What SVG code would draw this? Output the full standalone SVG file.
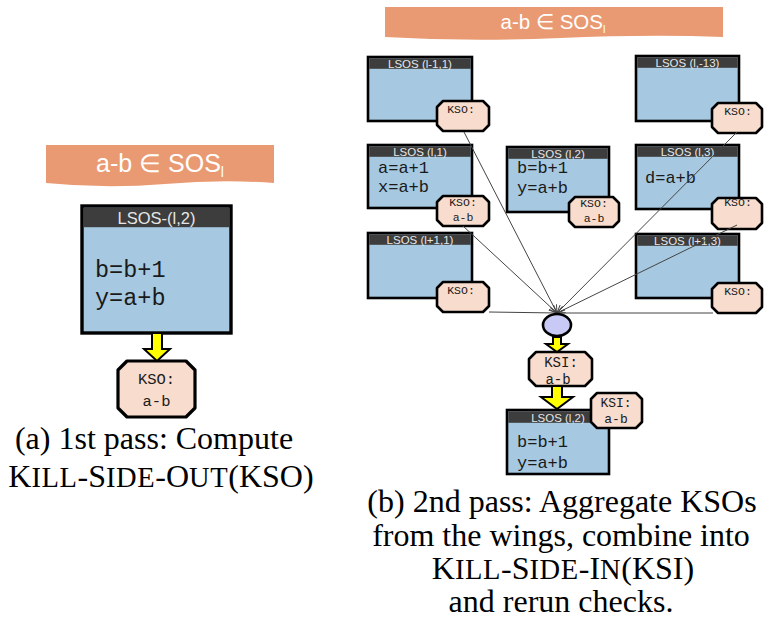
<svg xmlns="http://www.w3.org/2000/svg" width="767" height="630" viewBox="0 0 767 630">
<style>
.body{fill:#a6c9e1;stroke:#000;stroke-width:2.6}
.hdr{fill:#3d3d3d}
.htx{font-family:"Liberation Sans",Arial,sans-serif;font-size:11.5px;fill:#e6e6e6;text-anchor:middle}
.code{font-family:"Liberation Mono","Courier New",monospace;font-size:17px;fill:#1a1a1a}
.oct{fill:#f8dccd;stroke:#000;stroke-width:2.6;stroke-linejoin:round}
.ksx{font-family:"Liberation Mono","Courier New",monospace;font-size:11.5px;fill:#1a1a1a;text-anchor:middle}
.ban{fill:#e99a72}
.btx{font-family:"Liberation Sans",Arial,sans-serif;fill:#ffffff;text-anchor:middle}
.yel{fill:#ffff00;stroke:#000;stroke-width:2;stroke-linejoin:miter}
.con{stroke:#444;stroke-width:1;fill:none;marker-end:url(#ah)}
.cap{font-family:"Liberation Serif","Times New Roman",serif;font-size:32px;fill:#000;text-anchor:middle}
.sc{font-size:28.5px;letter-spacing:0.6px}
</style>
<defs>
<marker id="ah" markerUnits="userSpaceOnUse" markerWidth="9" markerHeight="8" refX="8" refY="4" orient="auto">
<path d="M0,0.5 L8,4 L0,7.5" fill="none" stroke="#444" stroke-width="1"/>
</marker>
</defs>

<!-- Left panel -->
<g id="banner-left">
<path class="ban" d="M46,145 H274 V183 Q222,179 165,184 Q105,189 46,183 Z"/>
<text class="btx" x="160" y="172" style="font-size:25px">a-b ∈ SOS<tspan style="font-size:14px" dy="5">l</tspan></text>
</g>
<g id="lsos-left">
<rect class="body" x="82" y="206" width="149" height="127" style="stroke-width:3.4"/>
<rect class="hdr" x="83.7" y="207.7" width="145.6" height="19.5"/>
<text x="156.5" y="224" font-family="Liberation Sans, Arial, sans-serif" font-size="16.5" fill="#e6e6e6" text-anchor="middle">LSOS-(l,2)</text>
<text class="code" x="95" y="277" style="font-size:23.5px">b=b+1</text>
<text class="code" x="95" y="305" style="font-size:23.5px">y=a+b</text>
</g>
<g id="kso-left">
<path class="oct" style="stroke-width:3.2" d="M127,361 H186 L195,370 V408 L186,417 H127 L118,408 V370 Z"/>
<text class="ksx" x="156.5" y="384" style="font-size:15.5px">KSO:</text>
<text class="ksx" x="156.5" y="406" style="font-size:15.5px">a-b</text>
</g>
<g id="arrow-left">
<path class="yel" d="M152,333 H162 V349 H170 L157,361 L144,349 H152 Z"/>
</g>
<g id="caption-a">
<text class="cap" x="154" y="449">(a) 1st pass: Compute</text>
<text class="cap" x="161" y="487">K<tspan class="sc">ILL</tspan>-S<tspan class="sc">IDE</tspan>-O<tspan class="sc">UT</tspan>(KSO)</text>
</g>

<!-- Right panel -->
<g id="banner-right">
<path class="ban" d="M385,7 H723 V37 Q650,34 560,38 Q470,42 385,37 Z"/>
<text class="btx" x="553" y="29" style="font-size:20.5px">a-b ∈ SOS<tspan style="font-size:11px" dy="4">l</tspan></text>
</g>

<g id="lsos-l-1-1">
<rect class="body" x="368" y="57" width="104" height="64"/>
<rect class="hdr" x="369.3" y="58.3" width="101.4" height="10.5"/>
<text class="htx" x="420" y="67.5">LSOS (l-1,1)</text>
<path class="oct" d="M443,101 H483 L489,107 V125 L483,131 H443 L437,125 V107 Z"/>
<text class="ksx" x="461" y="113">KSO:</text>
</g>

<g id="lsos-l-1">
<rect class="body" x="368" y="145" width="104" height="63"/>
<rect class="hdr" x="369.3" y="146.3" width="101.4" height="10.5"/>
<text class="htx" x="420" y="155.5">LSOS (l,1)</text>
<text class="code" x="378" y="173">a=a+1</text>
<text class="code" x="378" y="192">x=a+b</text>
<path class="oct" d="M443,196 H483 L489,202 V220 L483,226 H443 L437,220 V202 Z"/>
<text class="ksx" x="463" y="206">KSO:</text>
<text class="ksx" x="463" y="221">a-b</text>
</g>

<g id="lsos-l+1-1">
<rect class="body" x="368" y="233" width="104" height="65"/>
<rect class="hdr" x="369.3" y="234.3" width="101.4" height="10.5"/>
<text class="htx" x="420" y="243.5">LSOS (l+1,1)</text>
<path class="oct" d="M443,282 H483 L489,288 V306 L483,312 H443 L437,306 V288 Z"/>
<text class="ksx" x="461" y="294">KSO:</text>
</g>

<g id="lsos-l-2">
<rect class="body" x="507" y="147" width="102" height="65"/>
<rect class="hdr" x="508.3" y="148.3" width="99.4" height="10.5"/>
<text class="htx" x="558" y="157.5">LSOS (l,2)</text>
<text class="code" x="517" y="173">b=b+1</text>
<text class="code" x="517" y="193">y=a+b</text>
<path class="oct" d="M575,197 H613 L619,203 V221 L613,227 H575 L569,221 V203 Z"/>
<text class="ksx" x="594" y="207">KSO:</text>
<text class="ksx" x="594" y="222">a-b</text>
</g>

<g id="lsos-l-m13">
<rect class="body" x="636" y="56" width="103" height="65"/>
<rect class="hdr" x="637.3" y="57.3" width="100.4" height="10.5"/>
<text class="htx" x="687.5" y="66.5">LSOS (l,-13)</text>
<path class="oct" d="M718,103 H756 L762,109 V127 L756,133 H718 L712,127 V109 Z"/>
<text class="ksx" x="738" y="115">KSO:</text>
</g>

<g id="lsos-l-3">
<rect class="body" x="636" y="145" width="103" height="64"/>
<rect class="hdr" x="637.3" y="146.3" width="100.4" height="10.5"/>
<text class="htx" x="687.5" y="155.5">LSOS (l,3)</text>
<text class="code" x="645" y="183">d=a+b</text>
<path class="oct" d="M718,198 H756 L762,204 V223 L756,229 H718 L712,223 V204 Z"/>
<text class="ksx" x="738" y="206">KSO:</text>
</g>

<g id="lsos-l+1-3">
<rect class="body" x="636" y="234" width="103" height="64"/>
<rect class="hdr" x="637.3" y="235.3" width="100.4" height="10.5"/>
<text class="htx" x="687.5" y="244.5">LSOS (l+1,3)</text>
<path class="oct" d="M718,283 H756 L762,289 V307 L756,313 H718 L712,307 V289 Z"/>
<text class="ksx" x="738" y="295">KSO:</text>
</g>

<g id="connectors">
<line class="con" x1="464" y1="132" x2="557" y2="313"/>
<line class="con" x1="463" y1="226" x2="557" y2="313"/>
<line class="con" x1="489" y1="312" x2="557" y2="313"/>
<line class="con" x1="737" y1="132" x2="557" y2="313"/>
<line class="con" x1="737" y1="225" x2="557" y2="313"/>
<line class="con" x1="713" y1="313" x2="557" y2="313"/>
</g>

<g id="merge">
<ellipse cx="557" cy="325" rx="14" ry="11" fill="#c9c9f6" stroke="#000" stroke-width="2.6"/>
</g>

<g id="ksi">
<path class="oct" d="M536,352 H585 L592,359 V379 L585,386 H536 L529,379 V359 Z"/>
<text class="ksx" x="561" y="367" style="font-size:14px">KSI:</text>
<text class="ksx" x="558" y="384" style="font-size:14px">a-b</text>
</g>

<g id="lsos-bottom">
<rect class="body" x="507" y="410" width="102" height="64"/>
<rect class="hdr" x="508.3" y="411.3" width="99.4" height="11.5"/>
<text class="htx" x="558" y="421.5">LSOS (l,2)</text>
<text class="code" x="517" y="447">b=b+1</text>
<text class="code" x="517" y="468">y=a+b</text>
</g>

<g id="ksi-side">
<path class="oct" d="M597,393 H636 L642,399 V422 L636,428 H597 L591,422 V399 Z"/>
<text class="ksx" x="616" y="407" style="font-size:13px">KSI:</text>
<text class="ksx" x="616" y="423" style="font-size:13px">a-b</text>
</g>

<g id="yellow-arrows">
<path class="yel" d="M553,337 H561 V344 H568 L557,352 L546,344 H553 Z"/>
<path class="yel" d="M552,386 H562 V397 H573 L557,409 L541,397 H552 Z"/>
</g>

<g id="caption-b">
<text class="cap" x="562" y="512">(b) 2nd pass: Aggregate KSOs</text>
<text class="cap" x="561" y="546">from the wings, combine into</text>
<text class="cap" x="563" y="579">K<tspan class="sc">ILL</tspan>-S<tspan class="sc">IDE</tspan>-I<tspan class="sc">N</tspan>(KSI)</text>
<text class="cap" x="561" y="612">and rerun checks.</text>
</g>
</svg>
